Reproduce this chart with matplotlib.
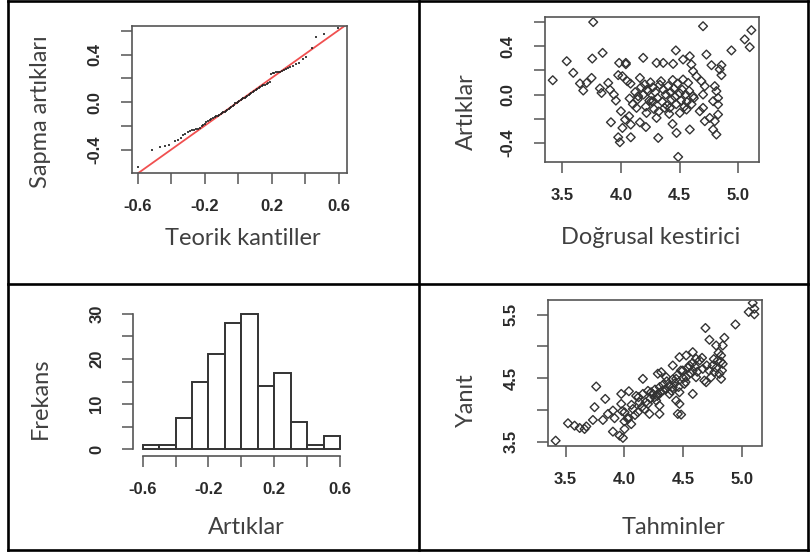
import matplotlib
matplotlib.use("Agg")
import matplotlib.pyplot as plt
from matplotlib.lines import Line2D

# ---- data ----
# QQ plot (Teorik kantiller vs Sapma artiklari)
qq_x = [-0.600, -0.515, -0.468, -0.440, -0.412, -0.381, -0.362, -0.345, -0.331, -0.318,
        -0.301, -0.290, -0.278, -0.266, -0.255, -0.241, -0.230, -0.220, -0.210, -0.200,
        -0.192, -0.182, -0.172, -0.163, -0.154, -0.142, -0.133, -0.124, -0.115, -0.106,
        -0.098, -0.090, -0.082, -0.074, -0.066, -0.058, -0.050, -0.042, -0.034, -0.026,
        -0.018, -0.010, -0.002, 0.006, 0.014, 0.022, 0.030, 0.038, 0.046, 0.054,
        0.062, 0.070, 0.078, 0.086, 0.095, 0.104, 0.113, 0.122, 0.131, 0.140,
        0.150, 0.160, 0.170, 0.180, 0.190, 0.198, 0.205, 0.215, 0.226, 0.237,
        0.248, 0.260, 0.272, 0.285, 0.298, 0.312, 0.327, 0.343, 0.364, 0.385,
        0.404, 0.440, 0.465, 0.514, 0.594]
qq_y = [-0.545, -0.400, -0.378, -0.368, -0.360, -0.322, -0.315, -0.300, -0.275, -0.262,
        -0.248, -0.240, -0.236, -0.232, -0.228, -0.222, -0.212, -0.200, -0.190, -0.180,
        -0.165, -0.155, -0.146, -0.140, -0.132, -0.122, -0.118, -0.112, -0.104, -0.096,
        -0.090, -0.084, -0.078, -0.070, -0.062, -0.052, -0.044, -0.036, -0.028, -0.020,
        -0.010, -0.002, 0.004, 0.012, 0.020, 0.026, 0.034, 0.040, 0.048, 0.056,
        0.064, 0.072, 0.080, 0.090, 0.098, 0.106, 0.114, 0.122, 0.130, 0.136,
        0.142, 0.148, 0.152, 0.158, 0.170, 0.235, 0.243, 0.246, 0.250, 0.255,
        0.258, 0.264, 0.270, 0.278, 0.284, 0.292, 0.304, 0.318, 0.328, 0.360,
        0.383, 0.459, 0.545, 0.573, 0.626]
qq_intercept = 0.005
qq_slope = 1.0

# residuals vs linear predictor
res_x = [3.762, 3.417, 3.536, 3.592, 3.754, 3.842, 3.649, 3.677, 3.706, 3.748,
         3.819, 3.833, 3.890, 3.904, 3.938, 3.955, 3.975, 3.983, 4.040, 4.040,
         4.053, 4.072, 4.011, 3.998, 3.913, 4.011, 4.034, 4.068, 4.082, 3.975,
         3.989, 4.082, 4.131, 4.160, 4.188, 4.160, 4.211, 4.145, 4.202, 4.230,
         4.259, 4.216, 4.698, 5.110, 5.053, 5.096, 4.940, 4.466, 4.727, 4.302,
         4.359, 4.443, 4.528, 4.585, 4.599, 4.770, 4.855, 4.855, 4.840, 4.613,
         4.642, 4.528, 4.571, 4.684, 4.713, 4.798, 4.812, 4.826, 4.784, 4.826,
         4.698, 4.613, 4.698, 4.670, 4.713, 4.755, 4.798, 4.826, 4.784, 4.812,
         4.585, 4.438, 4.472, 4.316, 4.486, 4.500, 4.557, 4.415, 4.302, 4.274,
         4.250, 4.270, 4.290, 4.310, 4.330, 4.350, 4.360, 4.380, 4.390, 4.400,
         4.420, 4.430, 4.450, 4.460, 4.470, 4.480, 4.500, 4.510, 4.520, 4.540,
         4.550, 4.560, 4.580, 4.600, 4.620, 4.280, 4.320, 4.370, 4.410, 4.440,
         4.340, 4.240, 4.220, 4.210, 4.190, 4.170, 4.140, 4.120, 4.100, 4.080]
res_y = [0.598, 0.118, 0.275, 0.179, 0.297, 0.344, 0.091, 0.033, 0.096, 0.137,
         0.050, 0.013, 0.096, 0.040, 0.000, -0.050, 0.160, 0.261, 0.261, 0.250,
         0.110, -0.033, 0.151, -0.138, -0.229, -0.276, -0.207, -0.179, -0.248, -0.353,
         -0.394, -0.353, -0.110, 0.137, 0.303, -0.230, -0.268, -0.014, 0.083, 0.028,
         -0.055, -0.152, 0.564, 0.531, 0.455, 0.391, 0.364, 0.364, 0.330, 0.261,
         0.261, 0.253, 0.289, 0.316, 0.248, 0.242, 0.242, 0.160, 0.207, 0.193,
         0.151, 0.124, 0.096, 0.110, 0.069, 0.069, 0.028, -0.028, -0.055, -0.083,
         0.000, -0.014, -0.110, -0.138, -0.220, -0.193, -0.220, -0.165, -0.289, -0.330,
         -0.289, -0.243, -0.317, -0.358, -0.515, -0.152, -0.124, -0.110, -0.193, -0.055,
         0.100, 0.060, 0.020, -0.030, 0.080, -0.060, 0.040, 0.000, -0.090, 0.070,
         0.020, -0.040, 0.050, -0.020, -0.080, 0.090, 0.010, -0.050, 0.040, -0.100,
         0.000, -0.060, 0.030, -0.080, -0.030, -0.120, -0.140, -0.110, -0.160, 0.120,
         0.110, -0.050, 0.040, -0.100, 0.000, 0.060, -0.040, 0.020, -0.080, 0.090]

# histogram of residuals
hist_edges = [-0.6, -0.5, -0.4, -0.3, -0.2, -0.1, 0.0, 0.1, 0.2, 0.3, 0.4, 0.5]
hist_counts = [1, 1, 7, 15, 21, 28, 30, 14, 17, 6, 1, 3]
hist_width = 0.1

# response vs fitted
fit_x = [3.415, 3.520, 3.576, 3.619, 3.661, 3.676, 3.732, 3.746, 3.760, 3.837,
         3.817, 3.860, 3.902, 3.916, 3.902, 3.959, 3.987, 3.973, 3.973, 4.038,
         4.001, 4.001, 4.058, 4.030, 4.072, 4.114, 4.157, 4.100, 4.128, 4.157,
         4.200, 4.213, 4.171, 4.227, 4.256, 4.284, 5.091, 5.105, 5.057, 5.105,
         4.944, 4.689, 4.723, 4.850, 4.780, 4.836, 4.822, 4.794, 4.836, 4.751,
         4.765, 4.808, 4.822, 4.737, 4.695, 4.666, 4.609, 4.581, 4.525, 4.468,
         4.553, 4.581, 4.496, 4.411, 4.313, 4.355, 4.440, 4.525, 4.609, 4.680,
         4.510, 4.411, 4.581, 4.468, 4.383, 4.327, 4.284, 4.270, 4.298, 4.440,
         4.468, 4.454, 4.482, 4.298, 4.220, 4.240, 4.260, 4.280, 4.300, 4.310,
         4.330, 4.350, 4.360, 4.380, 4.400, 4.410, 4.430, 4.450, 4.460, 4.480,
         4.500, 4.520, 4.540, 4.560, 4.580, 4.600, 4.620, 4.640, 4.660, 4.700,
         4.720, 4.760, 4.780, 4.800, 4.820, 4.830, 4.200, 4.180, 4.150, 4.120,
         4.090, 4.060, 4.030, 4.000, 3.980]
fit_y = [3.516, 3.790, 3.752, 3.716, 3.700, 3.740, 3.842, 4.043, 4.368, 4.173,
         3.842, 3.937, 3.990, 3.870, 3.658, 3.595, 3.560, 4.095, 4.252, 4.294,
         3.963, 3.700, 3.777, 3.857, 4.015, 3.963, 4.489, 4.220, 4.120, 4.252,
         4.095, 3.937, 4.015, 4.278, 4.200, 4.570, 5.683, 5.593, 5.541, 5.505,
         5.345, 5.289, 5.104, 5.135, 5.014, 5.014, 4.857, 4.778, 4.725, 4.699,
         4.594, 4.568, 4.489, 4.515, 4.436, 4.646, 4.804, 4.909, 4.857, 4.830,
         4.699, 4.620, 4.620, 4.699, 4.594, 4.515, 4.489, 4.515, 4.515, 4.462,
         4.410, 4.357, 4.252, 4.278, 4.252, 4.305, 4.252, 4.147, 4.068, 4.147,
         4.095, 3.937, 3.926, 3.937, 4.180, 4.250, 4.320, 4.220, 4.360, 4.280,
         4.400, 4.320, 4.450, 4.380, 4.300, 4.480, 4.420, 4.550, 4.360, 4.620,
         4.500, 4.440, 4.660, 4.580, 4.740, 4.680, 4.600, 4.780, 4.820, 4.700,
         4.620, 4.800, 4.660, 4.900, 4.760, 4.620, 4.300, 4.120, 4.050, 4.200,
         3.920, 4.080, 3.880, 3.820, 3.980]

# ticks (R style: labels dropped where they would overlap)
qq_xticks = [-0.6, -0.4, -0.2, 0.0, 0.2, 0.4, 0.6]
qq_xlabels = ["-0.6", "", "-0.2", "", "0.2", "", "0.6"]
qq_yticks = [-0.4, -0.2, 0.0, 0.2, 0.4, 0.6]
qq_ylabels = ["-0.4", "", "0.0", "", "0.4", ""]
res_xticks = [3.5, 4.0, 4.5, 5.0]
res_xlabels = ["3.5", "4.0", "4.5", "5.0"]
res_yticks = [-0.4, -0.2, 0.0, 0.2, 0.4, 0.6]
res_ylabels = ["-0.4", "", "0.0", "", "0.4", ""]
hist_xticks = [-0.6, -0.4, -0.2, 0.0, 0.2, 0.4, 0.6]
hist_xlabels = ["-0.6", "", "-0.2", "", "0.2", "", "0.6"]
hist_yticks = [0, 5, 10, 15, 20, 25, 30]
hist_ylabels = ["0", "", "10", "", "20", "", "30"]
fit_xticks = [3.5, 4.0, 4.5, 5.0]
fit_xlabels = ["3.5", "4.0", "4.5", "5.0"]
fit_yticks = [3.5, 4.0, 4.5, 5.0, 5.5]
fit_ylabels = ["3.5", "", "4.5", "", "5.5"]

W, H = 812, 552
TICK_COLOR = "#555555"
LABEL_COLOR = "#2a2a2a"
TITLE_COLOR = "#404040"


def rect(l, r, t, b):
    return [l / W, 1 - b / H, (r - l) / W, (b - t) / H]


def r_axis(ax, xt, xl, yt, yl, box=True):
    ax.set_xticks(xt)
    ax.set_xticklabels(xl)
    ax.set_yticks(yt)
    ax.set_yticklabels(yl, rotation=90, va="center")
    ax.tick_params(axis="both", direction="out", length=8, width=1.1,
                   color=TICK_COLOR, labelcolor=LABEL_COLOR, labelsize=12)
    ax.tick_params(axis="x", pad=11)
    ax.tick_params(axis="y", pad=13)
    for lab in ax.get_xticklabels() + ax.get_yticklabels():
        lab.set_family("Liberation Sans")
        lab.set_fontweight("bold")
    for s in ax.spines.values():
        s.set_color(TICK_COLOR)
        s.set_linewidth(1.2)
        s.set_visible(box)


def main():
    fig = plt.figure(figsize=(W / 100, H / 100), dpi=100)

    # table grid
    tl = dict(color="black", linewidth=1.9, transform=fig.transFigure)
    for (x0, y0, x1, y1) in [(8, 1, 808, 1), (8, 550, 808, 550), (8, 1, 8, 550),
                             (808, 1, 808, 550), (419.5, 1, 419.5, 550), (8, 283.5, 808, 283.5)]:
        fig.add_artist(Line2D([x0 / W, x1 / W], [1 - y0 / H, 1 - y1 / H], **tl))

    # QQ plot
    ax = fig.add_axes(rect(132, 347, 26, 173))
    ax.axline((0, qq_intercept), slope=qq_slope, color="#f05050", linewidth=1.3, zorder=2)
    ax.plot(qq_x, qq_y, linestyle="none", marker="s", markersize=2.0,
            color="#222222", markeredgewidth=0, alpha=0.85, zorder=3)
    ax.set_xlim(-0.636, 0.65)
    ax.set_ylim(-0.593, 0.64)
    r_axis(ax, qq_xticks, qq_xlabels, qq_yticks, qq_ylabels)

    # residuals vs linear predictor
    ax = fig.add_axes(rect(545, 759, 17, 162))
    ax.scatter(res_x, res_y, marker="D", s=20, facecolors="none",
               edgecolors="#333333", linewidths=1.0)
    ax.set_xlim(3.351, 5.175)
    ax.set_ylim(-0.557, 0.64)
    r_axis(ax, res_xticks, res_xlabels, res_yticks, res_ylabels)

    # histogram
    ax = fig.add_axes(rect(133.3, 349.4, 308.3, 456))
    ax.bar(hist_edges, hist_counts, width=hist_width, align="edge",
           color="white", edgecolor="#333333", linewidth=1.4)
    ax.set_xlim(-0.657, 0.657)
    ax.set_ylim(-1.45, 31.2)
    r_axis(ax, hist_xticks, hist_xlabels, hist_yticks, hist_ylabels, box=False)
    ax.spines["left"].set_visible(True)
    ax.spines["bottom"].set_visible(True)
    ax.spines["left"].set_bounds(0, 30)
    ax.spines["bottom"].set_bounds(-0.6, 0.6)

    # response vs fitted
    ax = fig.add_axes(rect(548, 762, 300, 445.5))
    ax.scatter(fit_x, fit_y, marker="D", s=20, facecolors="none",
               edgecolors="#333333", linewidths=1.0)
    ax.set_xlim(3.35, 5.17)
    ax.set_ylim(3.44, 5.73)
    r_axis(ax, fit_xticks, fit_xlabels, fit_yticks, fit_ylabels)

    # cell captions
    tk = dict(family="Lato", fontsize=17, color=TITLE_COLOR)
    fig.text(243 / W, 1 - 245 / H, "Teorik kantiller", ha="center", va="baseline", **tk)
    fig.text(651 / W, 1 - 244 / H, "Doğrusal kestirici", ha="center", va="baseline", **tk)
    fig.text(246 / W, 1 - 534.3 / H, "Artıklar", ha="center", va="baseline", **tk)
    fig.text(673.5 / W, 1 - 534.3 / H, "Tahminler", ha="center", va="baseline", **tk)
    vk = dict(rotation=90, rotation_mode="anchor", ha="center", va="baseline", **tk)
    fig.text(46.7 / W, 1 - 111.7 / H, "Sapma artıkları", **vk)
    fig.text(472.7 / W, 1 - 111.7 / H, "Artıklar", **vk)
    fig.text(46.5 / W, 1 - 398.4 / H, "Frekans", **vk)
    fig.text(472.7 / W, 1 - 400 / H, "Yanıt", **vk)

    fig.savefig("out.png", dpi=100)


if __name__ == "__main__":
    main()
